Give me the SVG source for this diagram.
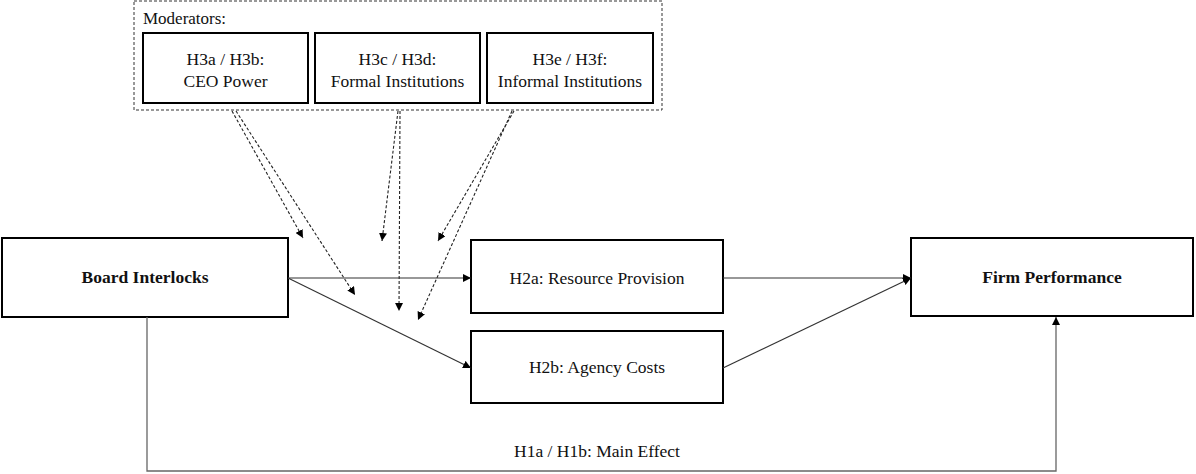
<svg xmlns="http://www.w3.org/2000/svg" width="1196" height="474" viewBox="0 0 1196 474">
<defs>
<marker id="ah" viewBox="0 0 10 10" refX="10" refY="5" markerWidth="8" markerHeight="8" markerUnits="userSpaceOnUse" orient="auto">
<path d="M0,0 L10,5 L0,10 z" fill="#000"/>
</marker>
</defs>
<style>
.box{fill:#fff;stroke:#000;stroke-width:2}
.t{font-size:17.5px;fill:#111;text-anchor:middle}
.b{font-weight:bold}
.c{fill:none;stroke:#333;stroke-width:1.2}
.d{fill:none;stroke:#222;stroke-width:1.1;stroke-dasharray:3,2}
</style>
<rect width="1196" height="474" fill="#fff"/>
<g font-family="'Liberation Serif', 'Times New Roman', 'DejaVu Serif', serif">
<g id="moderators">
<rect x="134" y="1" width="528" height="109" fill="none" stroke="#333" stroke-width="1" stroke-dasharray="3,2"/>
<text class="t" x="143" y="24" text-anchor="start" style="text-anchor:start;font-size:17px">Moderators:</text>
</g>
<g id="ceo">
<rect class="box" x="143" y="33" width="165" height="70"/>
<text class="t" x="225.5" y="65">H3a / H3b:</text>
<text class="t" x="225.5" y="87">CEO Power</text>
</g>
<g id="formal">
<rect class="box" x="315" y="33" width="165" height="70"/>
<text class="t" x="397.5" y="65">H3c / H3d:</text>
<text class="t" x="397.5" y="87">Formal Institutions</text>
</g>
<g id="informal">
<rect class="box" x="487" y="33" width="166" height="70"/>
<text class="t" x="570" y="65">H3e / H3f:</text>
<text class="t" x="570" y="87">Informal Institutions</text>
</g>
<g id="board">
<rect class="box" x="2" y="238" width="286" height="79"/>
<text class="t b" x="145" y="283">Board Interlocks</text>
</g>
<g id="h2a">
<rect class="box" x="471" y="240" width="252" height="73"/>
<text class="t" x="597" y="284">H2a: Resource Provision</text>
</g>
<g id="h2b">
<rect class="box" x="471" y="331" width="252" height="72"/>
<text class="t" x="597" y="373">H2b: Agency Costs</text>
</g>
<g id="firm">
<rect class="box" x="911" y="238" width="282" height="78"/>
<text class="t b" x="1052" y="283">Firm Performance</text>
</g>
<g id="connectors">
<line class="c" x1="288" y1="278" x2="471" y2="278" marker-end="url(#ah)"/>
<line class="c" x1="288" y1="278" x2="471" y2="368" marker-end="url(#ah)"/>
<line class="c" x1="723" y1="278" x2="911" y2="278" marker-end="url(#ah)"/>
<line class="c" x1="723" y1="368" x2="911" y2="278" marker-end="url(#ah)"/>
<polyline fill="none" stroke="#666" stroke-width="1.3" points="147,317 147,471 1056,471 1056,317" marker-end="url(#ah)"/>
<text class="t" x="597" y="457">H1a / H1b: Main Effect</text>
<line class="d" x1="232" y1="111" x2="303" y2="238" marker-end="url(#ah)"/>
<line class="d" x1="236" y1="111" x2="355" y2="295" marker-end="url(#ah)"/>
<line class="d" x1="398" y1="111" x2="382" y2="241" marker-end="url(#ah)"/>
<line class="d" x1="400" y1="111" x2="399" y2="311" marker-end="url(#ah)"/>
<line class="d" x1="514" y1="111" x2="438" y2="241" marker-end="url(#ah)"/>
<line class="d" x1="512" y1="111" x2="418" y2="320" marker-end="url(#ah)"/>
</g>
</g>
</svg>
